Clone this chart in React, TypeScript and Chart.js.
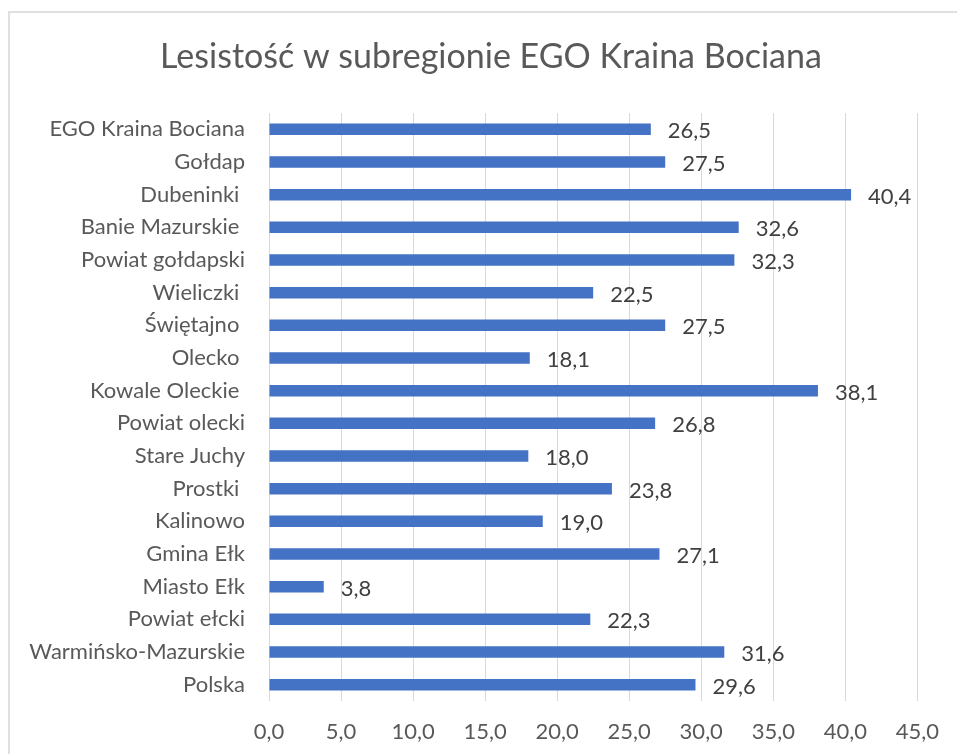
import React, { useEffect, useRef } from "react";
import { Chart, registerables } from "chart.js";

Chart.register(...registerables);

const TITLE = "Lesistość w subregionie EGO Kraina Bociana";

const categories: string[] = [
  "EGO Kraina Bociana",
  "Gołdap",
  "Dubeninki ",
  "Banie Mazurskie ",
  "Powiat gołdapski",
  "Wieliczki ",
  "Świętajno ",
  "Olecko ",
  "Kowale Oleckie ",
  "Powiat olecki",
  "Stare Juchy",
  "Prostki ",
  "Kalinowo",
  "Gmina Ełk",
  "Miasto Ełk",
  "Powiat ełcki",
  "Warmińsko-Mazurskie",
  "Polska",
];

const forestShare: number[] = [
  26.5, 27.5, 40.4, 32.6, 32.3, 22.5, 27.5, 18.1, 38.1, 26.8, 18.0, 23.8, 19.0,
  27.1, 3.8, 22.3, 31.6, 29.6,
];

const xMin = 0;
const xMax = 45;
const xStep = 5;

const FONT = "Lato, 'Open Sans', sans-serif";

const fmt = (v: number) => v.toFixed(1).replace(".", ",");

const dataLabelPlugin = {
  id: "dataLabels",
  afterDatasetsDraw(chart: any) {
    const ctx = chart.ctx;
    ctx.save();
    ctx.font = `22px ${FONT}`;
    ctx.fillStyle = "#404040";
    ctx.textAlign = "left";
    ctx.textBaseline = "middle";
    chart.data.datasets.forEach((ds: any, di: number) => {
      const meta = chart.getDatasetMeta(di);
      meta.data.forEach((el: any, i: number) => {
        ctx.fillText(fmt(ds.data[i]), el.x + 17, el.y + 2);
      });
    });
    ctx.restore();
  },
};

const titlePlugin = {
  id: "offsetTitle",
  afterDraw(chart: any) {
    const ctx = chart.ctx;
    ctx.save();
    ctx.font = `34px ${FONT}`;
    ctx.fillStyle = "#595959";
    ctx.textAlign = "center";
    ctx.textBaseline = "alphabetic";
    ctx.fillText(TITLE, 491, 68);
    ctx.restore();
  },
};

export default function App() {
  const canvasRef = useRef<HTMLCanvasElement | null>(null);

  useEffect(() => {
    if (!canvasRef.current) return;
    const chart = new Chart(canvasRef.current, {
      type: "bar",
      data: {
        labels: categories,
        datasets: [
          {
            data: forestShare,
            backgroundColor: "#4472C4",
            borderWidth: 0,
            barPercentage: 0.35,
            categoryPercentage: 1,
          },
        ],
      },
      options: {
        indexAxis: "y",
        animation: false,
        responsive: false,
        maintainAspectRatio: false,
        layout: { padding: { left: 10, right: 29, top: 113, bottom: 0 } },
        plugins: {
          legend: { display: false },
          tooltip: { enabled: false },
          title: { display: false },
        },
        scales: {
          x: {
            min: xMin,
            max: xMax,
            ticks: {
              stepSize: xStep,
              color: "#595959",
              font: { family: FONT, size: 22 },
              padding: 18,
              callback: (v: any) => fmt(Number(v)),
            },
            grid: { color: "#d9d9d9", lineWidth: 1, drawTicks: false },
            border: { display: false },
            afterFit: (scale: any) => {
              scale.height = 53;
            },
          },
          y: {
            ticks: {
              color: "#595959",
              font: { family: FONT, size: 22 },
              padding: 24,
              autoSkip: false,
            },
            grid: { display: false, drawTicks: false },
            border: { display: false },
            afterFit: (scale: any) => {
              scale.width = 259;
            },
          },
        },
      },
      plugins: [dataLabelPlugin, titlePlugin],
    });
    return () => chart.destroy();
  }, []);

  return (
    <div
      style={{
        position: "fixed",
        left: 0,
        top: 0,
        width: 957,
        height: 754,
        overflow: "hidden",
        background: "#ffffff",
      }}
    >
      <div
        style={{
          position: "absolute",
          left: 8,
          top: 11,
          width: 1100,
          height: 1000,
          border: "2px solid #e0e0e0",
        }}
      />
      <canvas
        ref={canvasRef}
        width={957}
        height={754}
        style={{ position: "absolute", left: 0, top: 0, width: 957, height: 754 }}
      />
    </div>
  );
}
